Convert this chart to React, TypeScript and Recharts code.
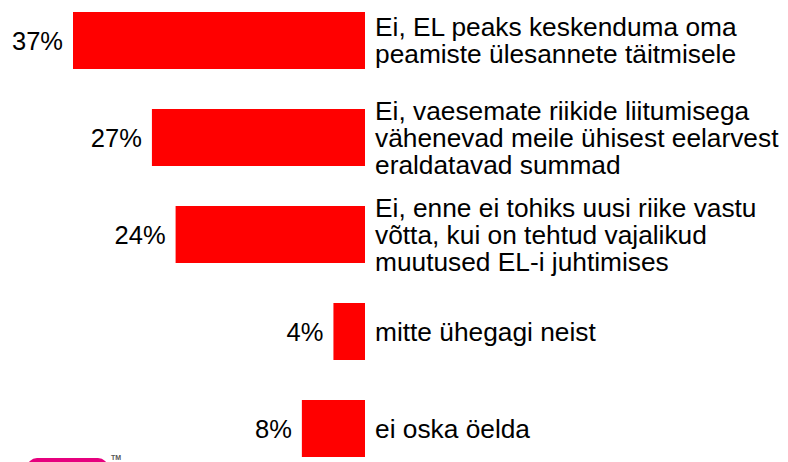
import React from 'react';
import { BarChart, Bar, XAxis, YAxis, LabelList } from 'recharts';

const categories: string[] = [
  'Ei, EL peaks keskenduma oma\npeamiste ülesannete täitmisele',
  'Ei, vaesemate riikide liitumisega\nvähenevad meile ühisest eelarvest\neraldatavad summad',
  'Ei, enne ei tohiks uusi riike vastu\nvõtta, kui on tehtud vajalikud\nmuutused EL-i juhtimises',
  'mitte ühegagi neist',
  'ei oska öelda',
];
const values: number[] = [37, 27, 24, 4, 8];

const data = categories.map((c, i) => ({ name: c, value: values[i] }));

const FONT = 'Arial, "Liberation Sans", sans-serif';
const FS = 25.5;
const CAT_FS = 26.3;
const LH = 27;

const CategoryTick = (props: any) => {
  const { x, y, payload } = props;
  const lines: string[] = String(payload.value).split('\n');
  const n = lines.length;
  const first = y - ((n - 1) / 2) * LH + 9;
  return (
    <text x={x} fontFamily={FONT} fontSize={CAT_FS} fill="#000" textAnchor="start">
      {lines.map((l, i) => (
        <tspan key={i} x={x} y={first + i * LH}>
          {l}
        </tspan>
      ))}
    </text>
  );
};

const ValueLabel = (props: any) => {
  const { x, y, width, height, value } = props;
  const left = Math.min(Number(x), Number(x) + Number(width));
  return (
    <text
      x={left - 10}
      y={Number(y) + Number(height) / 2 + 9}
      fontFamily={FONT}
      fontSize={FS}
      fill="#000"
      textAnchor="end"
    >
      {`${value}%`}
    </text>
  );
};

export default function App() {
  return (
    <div style={{ position: 'absolute', left: 0, top: 0, width: 788, height: 462, background: '#fff', overflow: 'hidden' }}>
      <BarChart
        width={788}
        height={462}
        data={data}
        layout="vertical"
        margin={{ top: -8, right: 0, bottom: -15, left: 73 }}
        barCategoryGap={40}
      >
        <XAxis type="number" domain={[0, 37]} reversed hide />
        <YAxis
          type="category"
          dataKey="name"
          orientation="right"
          width={423}
          axisLine={false}
          tickLine={false}
          tickSize={0}
          tickMargin={10}
          interval={0}
          tick={<CategoryTick />}
        />
        <Bar dataKey="value" fill="#FF0000" barSize={57} isAnimationActive={false}>
          <LabelList dataKey="value" content={<ValueLabel />} />
        </Bar>
      </BarChart>
      <div
        style={{
          position: 'absolute',
          left: 27,
          top: 458,
          width: 81,
          height: 20,
          background: '#E6007E',
          borderRadius: 10,
        }}
      />
      <div
        style={{
          position: 'absolute',
          left: 111,
          top: 454,
          fontFamily: FONT,
          fontSize: 7,
          fontWeight: 'bold',
          color: '#555',
        }}
      >
        TM
      </div>
    </div>
  );
}
